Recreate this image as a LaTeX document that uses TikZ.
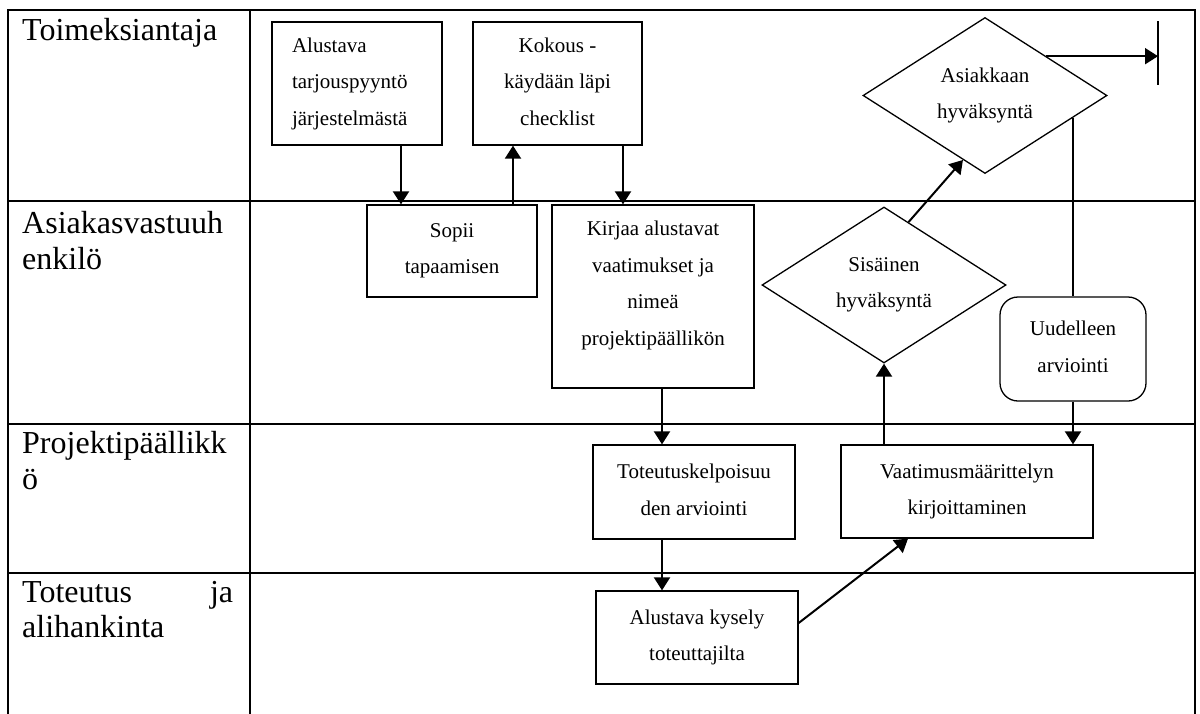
\documentclass[tikz,border=0pt]{standalone}
\usepackage{fontspec}
\setmainfont{Liberation Serif}
\usetikzlibrary{arrows.meta,shapes.geometric,calc}

\begin{document}
\begin{tikzpicture}[x=1pt,y=-1pt,
  grid/.style={line width=2pt,line cap=rect},
  boxfont/.style={font=\fontsize{21pt}{36.5pt}\selectfont},
  stepbox/.style={draw,line width=1.3pt,rectangle,inner sep=0pt,align=center,boxfont,
    execute at begin node=\vphantom{kg},execute at end node=\vphantom{g}},
  decision/.style={draw,line width=1.3pt,diamond,inner sep=0pt,aspect=1.56,align=center,boxfont,
    minimum width=244pt,minimum height=156pt,
    execute at begin node=\vphantom{kg},execute at end node=\vphantom{g}},
  lane/.style={anchor=north west,inner sep=0pt,align=left,
    font=\fontsize{32pt}{35.5pt}\selectfont,execute at begin node=\vphantom{k}},
  flow/.style={line width=2pt,-{Triangle[width=16pt,length=13pt]}},
  plain/.style={line width=2pt}
]
\useasboundingbox (0,0) rectangle (1200,713);

% swimlane table
\draw[grid] (8,713) -- (8,10) -- (1195,10) -- (1195,713);
\draw[grid] (250,10) -- (250,713);
\foreach \yy in {201,424,573} \draw[grid] (8,\yy) -- (1195,\yy);

% lane titles
\node[lane] (l1) at (22,18.1) {Toimeksiantaja};
\node[lane] (l2) at (22,211.1) {Asiakasvastuuh\\enkilö};
\node[lane] (l3) at (22,431.1) {Projektipäällikk\\ö};
\node[lane] (l4) at (22,581.1) {\makebox[211pt]{Toteutus\hfill ja}\\alihankinta};

% process steps
\node[stepbox,minimum width=170pt,minimum height=123pt,text width=130pt,align=left]
  (b1) at (357,83.5) {Alustava\\tarjouspyyntö\\järjestelmästä};
\node[stepbox,minimum width=169pt,minimum height=123pt]
  (b2) at (557.5,83.5) {Kokous -\\käydään läpi\\checklist};
\node[stepbox,minimum width=170pt,minimum height=92pt]
  (b3) at (452,251) {Sopii\\tapaamisen};
\node[stepbox,minimum width=202pt,minimum height=183pt]
  (b4) at (653,296.5) {Kirjaa alustavat\\vaatimukset ja\\nimeä\\projektipäällikön\rule[-27pt]{0pt}{0pt}};
\node[stepbox,minimum width=202pt,minimum height=94pt]
  (b5) at (694,492) {Toteutuskelpoisuu\\den arviointi};
\node[stepbox,minimum width=202pt,minimum height=93pt]
  (b6) at (697,637.5) {Alustava kysely\\toteuttajilta};
\node[stepbox,minimum width=252pt,minimum height=93pt]
  (b7) at (967,491.5) {Vaatimusmäärittelyn\\kirjoittaminen};
\node[stepbox,rounded corners=18pt,minimum width=146pt,minimum height=104pt]
  (uud) at (1073,349) {Uudelleen\\arviointi};

% decisions
\node[decision] (sis) at (884,285) {Sisäinen\\hyväksyntä};
\node[decision] (asi) at (985,95.5) {Asiakkaan\\hyväksyntä};

% end of the process
\coordinate (stop) at (1158,57);
\draw[line width=2pt] ([yshift=36pt]stop) -- ([yshift=-28pt]stop);

% connectors
\draw[flow] ([xshift=44pt]b1.south) -- ([xshift=44pt]b1.south |- b3.north);
\draw[flow] ([xshift=61pt]b3.north) -- ([xshift=61pt]b3.north |- b2.south);
\draw[flow] ([xshift=65.5pt]b2.south) -- ([xshift=65.5pt]b2.south |- b4.north);
\draw[flow] ([xshift=9pt]b4.south) -- ([xshift=9pt]b4.south |- b5.north);
\draw[flow] ([xshift=-32pt]b5.south) -- ([xshift=-32pt]b5.south |- b6.north);
\draw[flow] ([yshift=14.5pt]b6.east) -- ([xshift=-59pt]b7.south);
\draw[flow] (sis.south |- b7.north) -- (sis.south);
\draw[flow] ($(sis.north)!0.2!(sis.east)$) -- ($(asi.west)!0.82!(asi.south)$);
\coordinate (aexit) at ($(asi.north)!0.5!(asi.east)$);
\draw[flow] (aexit) -- (aexit -| stop);
\coordinate (aret) at ($(asi.east)!0.28!(asi.south)$);
\draw[plain] (aret) -- (aret |- uud.north);
\draw[flow] (uud.south) -- (uud.south |- b7.north);
\end{tikzpicture}
\end{document}
